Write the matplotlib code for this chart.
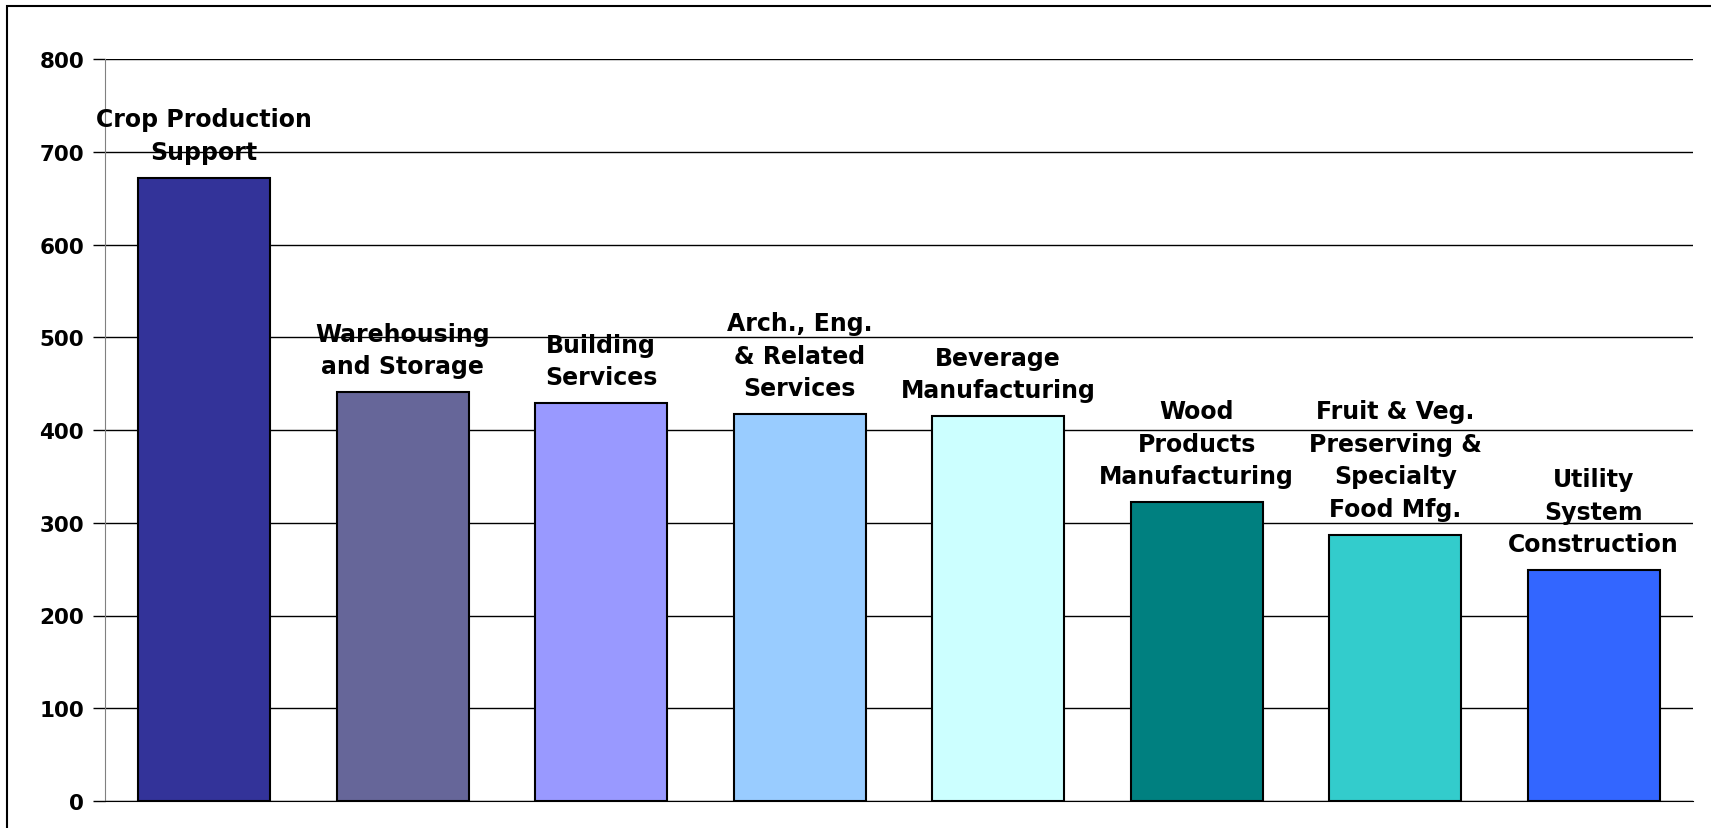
import matplotlib
matplotlib.use('Agg')
import matplotlib.pyplot as plt
from matplotlib.patches import Rectangle

labels = ['Crop Production\nSupport', 'Warehousing\nand Storage', 'Building\nServices',
          'Arch., Eng.\n& Related\nServices', 'Beverage\nManufacturing',
          'Wood\nProducts\nManufacturing', 'Fruit & Veg.\nPreserving &\nSpecialty\nFood Mfg.',
          'Utility\nSystem\nConstruction']
values = [672, 441, 429, 417, 415, 322, 287, 249]
colors = ['#333399', '#666699', '#9999FF', '#99CCFF', '#CCFFFF', '#008080', '#33CCCC', '#3366FF']
yticks = [0, 100, 200, 300, 400, 500, 600, 700, 800]

W, H = 1711, 829
fig = plt.figure(figsize=(W / 100, H / 100), dpi=100)
fig.patch.set_facecolor('white')

# outer chart border (right and bottom edges fall outside the image)
fig.patches.append(Rectangle((7 / W, -0.5), 2, 1.5 - 7 / H, transform=fig.transFigure,
                             fill=False, edgecolor='black', linewidth=1.5))

ax = fig.add_axes([105 / W, 27 / H, (1693 - 105) / W, (802 - 60) / H])
x = list(range(len(values)))
bars = ax.bar(x, values, width=0.665, color=colors, edgecolor='black', linewidth=1.5, zorder=3)

for xi, v, lab in zip(x, values, labels):
    ax.annotate(lab, (xi, v), xytext=(0, 10), textcoords='offset points',
                ha='center', va='bottom', fontsize=17, fontweight='bold',
                family='DejaVu Sans', linespacing=1.45, zorder=4)

ax.set_xlim(-0.5, len(values) - 0.5)
ax.set_ylim(0, 800)
ax.set_yticks(yticks)
ax.set_yticklabels([str(t) for t in yticks], fontsize=15.5, fontweight='bold')
ax.set_xticks([])
ax.tick_params(axis='y', length=9, width=1, color='black', pad=6)
ax.yaxis.grid(True, color='black', linewidth=1)
ax.set_axisbelow(True)
for s in ['top', 'right']:
    ax.spines[s].set_visible(False)
ax.spines['left'].set_color('#808080')
ax.spines['bottom'].set_color('black')

fig.savefig('out.png', dpi=100)
